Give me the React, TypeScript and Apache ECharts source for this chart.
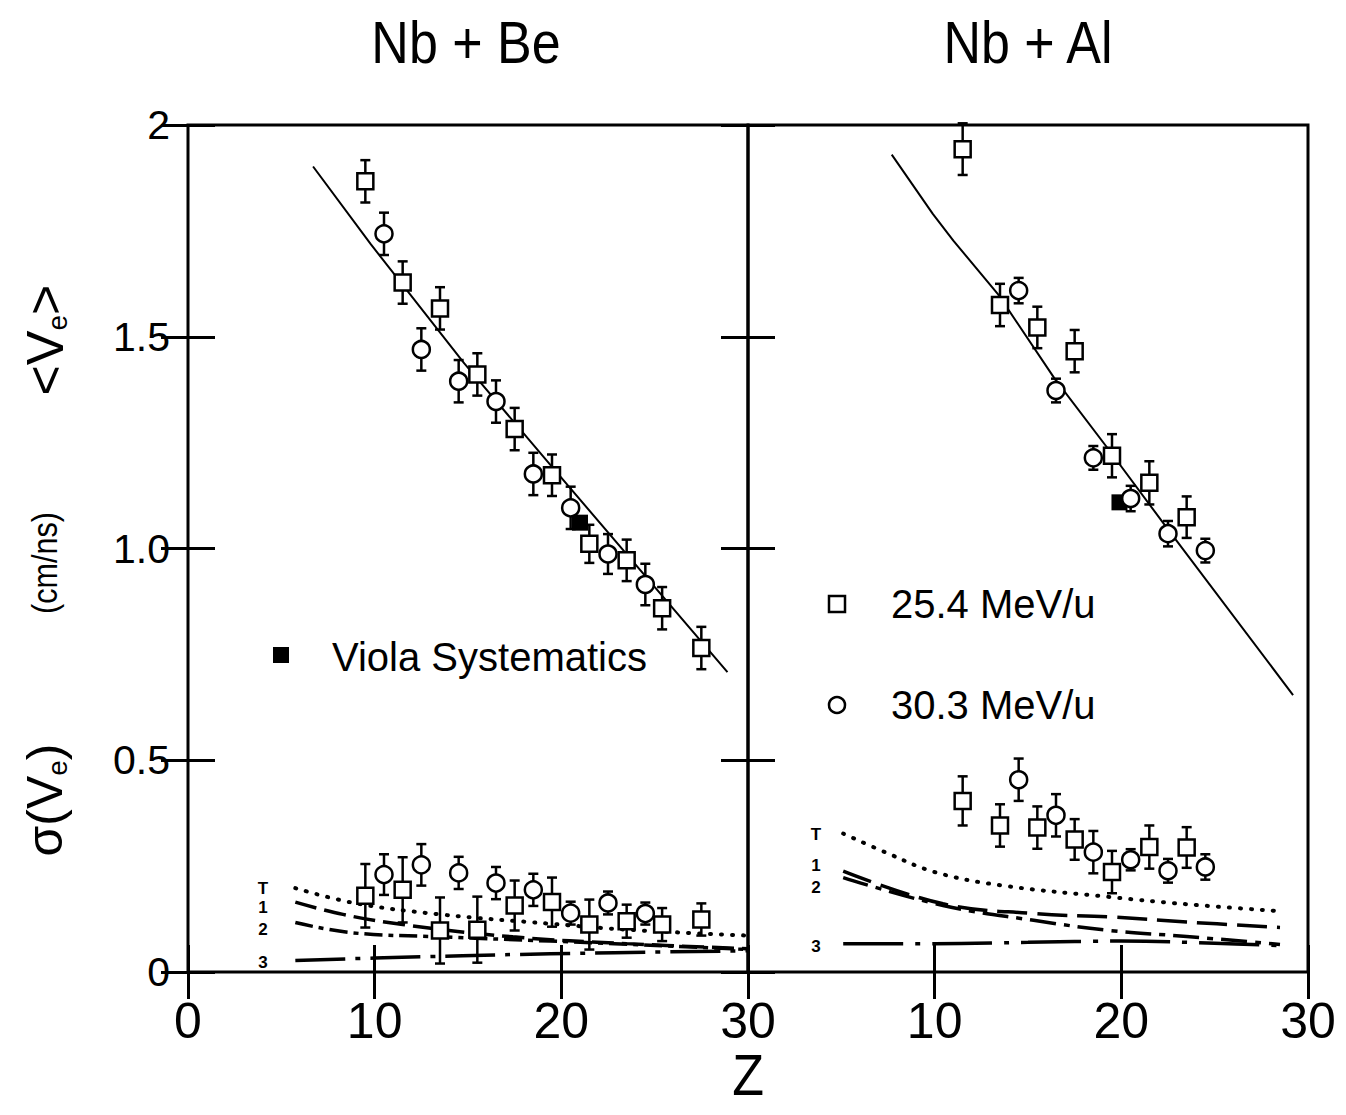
import React, { useEffect, useRef } from "react";
import * as echarts from "echarts";

// ---------- DATA ----------
// Nb + Be, <Ve>
const beSqZ = [9.5, 11.5, 13.5, 15.5, 17.5, 19.5, 21.5, 23.5, 25.4, 27.5];
const beSqV = [1.867, 1.628, 1.567, 1.411, 1.282, 1.173, 1.011, 0.972, 0.859, 0.765];
const beSqErr = [0.05, 0.05, 0.05, 0.05, 0.05, 0.049, 0.045, 0.049, 0.05, 0.05];
const beCiZ = [10.5, 12.5, 14.5, 16.5, 18.5, 20.5, 22.5, 24.5];
const beCiV = [1.743, 1.47, 1.395, 1.347, 1.176, 1.096, 0.987, 0.915];
const beCiErr = [0.05, 0.05, 0.05, 0.05, 0.05, 0.05, 0.047, 0.049];
const beViola = [[21.0, 1.061]];
const beFitZ = [6.7, 9.8, 14.8, 19.4, 28.9];
const beFitV = [1.902, 1.718, 1.437, 1.198, 0.708];
// Nb + Be, sigma(Ve)
const beSigSqV = [0.18, 0.194, 0.098, 0.1, 0.157, 0.165, 0.112, 0.12, 0.112, 0.124];
const beSigSqErr = [0.075, 0.077, 0.078, 0.078, 0.059, 0.058, 0.059, 0.039, 0.039, 0.038];
const beSigCiV = [0.23, 0.253, 0.234, 0.21, 0.194, 0.139, 0.163, 0.138];
const beSigCiErr = [0.048, 0.049, 0.038, 0.038, 0.038, 0.027, 0.027, 0.026];
const beTZ = [5.75, 8.9, 13.5, 19.4, 23.5, 30];
const beTV = [0.198, 0.163, 0.136, 0.114, 0.1, 0.086];
const be1Z = [5.75, 8.3, 11.5, 17.4, 23.5, 30];
const be1V = [0.165, 0.136, 0.112, 0.083, 0.067, 0.055];
const be2Z = [5.75, 8.7, 13.5, 19.4, 30];
const be2V = [0.117, 0.093, 0.083, 0.073, 0.053];
const be3Z = [5.75, 10, 19.4, 30];
const be3V = [0.027, 0.033, 0.043, 0.05];

// Nb + Al, <Ve>
const alSqZ = [11.5, 13.5, 15.5, 17.5, 19.5, 21.5, 23.5];
const alSqV = [1.943, 1.575, 1.522, 1.466, 1.219, 1.155, 1.074];
const alSqErr = [0.061, 0.05, 0.049, 0.05, 0.051, 0.051, 0.049];
const alCiZ = [14.5, 16.5, 18.5, 20.5, 22.5, 24.5];
const alCiV = [1.609, 1.373, 1.214, 1.118, 1.035, 0.995];
const alCiErr = [0.03, 0.028, 0.028, 0.03, 0.03, 0.028];
const alViola = [[19.9, 1.109]];
const alFitZ = [7.7, 9.9, 11.0, 13.4, 16.4, 19.4, 22.4, 29.2];
const alFitV = [1.93, 1.79, 1.727, 1.6, 1.403, 1.229, 1.051, 0.654];
// Nb + Al, sigma(Ve)
const alSigSqV = [0.404, 0.346, 0.341, 0.313, 0.236, 0.295, 0.294];
const alSigSqErr = [0.058, 0.05, 0.05, 0.048, 0.05, 0.051, 0.048];
const alSigCiV = [0.454, 0.37, 0.283, 0.265, 0.239, 0.248];
const alSigCiErr = [0.05, 0.05, 0.05, 0.025, 0.028, 0.03];
const alTZ = [5.1, 7.5, 10, 13.5, 19.4, 23.5, 28.4];
const alTV = [0.327, 0.28, 0.236, 0.205, 0.177, 0.16, 0.144];
const al1Z = [5.1, 10.45, 15.3, 19.4, 23.5, 28.5];
const al1V = [0.238, 0.161, 0.138, 0.13, 0.118, 0.105];
const al2Z = [5.1, 10.45, 15.3, 19.4, 23.5, 28.5];
const al2V = [0.223, 0.157, 0.122, 0.098, 0.084, 0.065];
const al3Z = [5.1, 10, 15, 20, 25, 28.5];
const al3V = [0.067, 0.067, 0.07, 0.073, 0.068, 0.062];

const xTicks = [0, 10, 20, 30];
const yTicks = [0, 0.5, 1.0, 1.5, 2];
const titles = ["Nb + Be", "Nb + Al"];
const legendLabels = ["Viola Systematics", "25.4 MeV/u", "30.3 MeV/u"];
const curveLabels = ["T", "1", "2", "3"];

// ---------- helpers ----------
const FONT = "'Liberation Sans', Arial, sans-serif";
const zip2 = (a: number[], b: number[]) => a.map((v, i) => [v, b[i]]);
const zip3 = (a: number[], b: number[], c: number[]) => a.map((v, i) => [v, b[i], c[i]]);

const errSeries = (gi: number, data: number[][]) => ({
  type: "custom",
  xAxisIndex: gi * 2,
  yAxisIndex: gi * 2,
  z: 3,
  encode: { x: 0, y: 1 },
  data,
  renderItem: (params: any, api: any) => {
    const x = api.value(0);
    const y = api.value(1);
    const e = api.value(2);
    const t = api.coord([x, y + e]);
    const b = api.coord([x, y - e]);
    const hw = 5;
    const st = { stroke: "#000", lineWidth: 2.5 };
    return {
      type: "group",
      children: [
        { type: "line", shape: { x1: t[0], y1: t[1], x2: b[0], y2: b[1] }, style: st },
        { type: "line", shape: { x1: t[0] - hw, y1: t[1], x2: t[0] + hw, y2: t[1] }, style: st },
        { type: "line", shape: { x1: b[0] - hw, y1: b[1], x2: b[0] + hw, y2: b[1] }, style: st },
      ],
    };
  },
});

const markSeries = (gi: number, data: number[][], symbol: string, filled: boolean, z = 4) => ({
  type: "scatter",
  xAxisIndex: gi * 2,
  yAxisIndex: gi * 2,
  z,
  symbol,
  symbolSize: symbol === "rect" ? 16 : 17,
  data,
  itemStyle: { color: filled ? "#000" : "#fff", borderColor: "#000", borderWidth: filled ? 0 : 2.5, opacity: 1 },
});

const lineSeries = (gi: number, data: number[][], type: any, width: number, smooth: any, cap = "butt") => ({
  type: "line",
  xAxisIndex: gi * 2,
  yAxisIndex: gi * 2,
  z: 2,
  data,
  showSymbol: false,
  symbol: "none",
  smooth,
  lineStyle: { color: "#000", width, type, cap },
});

const xAxis = (gi: number, position: string, showLabel: boolean, hideZero: boolean) => ({
  type: "value",
  gridIndex: gi,
  position,
  min: xTicks[0],
  max: xTicks[xTicks.length - 1],
  interval: xTicks[1] - xTicks[0],
  axisLine: { show: false },
  axisTick: { show: true, inside: true, length: 27, lineStyle: { color: "#000", width: 3 } },
  splitLine: { show: false },
  axisLabel: {
    show: showLabel,
    color: "#000",
    fontSize: 50,
    fontFamily: FONT,
    margin: 24,
    formatter: (v: number) => (hideZero && v === 0 ? "" : String(v)),
  },
});

const yAxis = (gi: number, position: string, showLabel: boolean) => ({
  type: "value",
  gridIndex: gi,
  position,
  min: yTicks[0],
  max: yTicks[yTicks.length - 1],
  interval: yTicks[1] - yTicks[0],
  axisLine: { show: false },
  axisTick: { show: true, inside: true, length: 27, lineStyle: { color: "#000", width: 3 } },
  splitLine: { show: false },
  axisLabel: {
    show: showLabel,
    color: "#000",
    fontSize: 41,
    fontFamily: FONT,
    margin: 18,
    formatter: (v: number) => (v === 0 || v === 2 ? String(v) : v.toFixed(1)),
  },
});

export default function App() {
  const ref = useRef<HTMLDivElement>(null);
  useEffect(() => {
    if (!ref.current) return;
    const chart = echarts.init(ref.current, undefined, { renderer: "svg" });
    const gridBase = { top: 125, width: 560, height: 847, show: true, borderColor: "#000", borderWidth: 3, backgroundColor: "transparent" };
    const txt = (x: number, y: number, text: string, fontSize: number, extra: any = {}, el: any = {}) => ({
      type: "text",
      x,
      y,
      z: 10,
      ...el,
      style: { text, fontSize, fontFamily: FONT, fill: "#000", align: "center", verticalAlign: "middle", ...extra },
    });
    const small = (x: number, y: number, text: string) => txt(x, y, text, 17, { fontWeight: "bold" });

    const option: any = {
      animation: false,
      backgroundColor: "#fff",
      grid: [
        { ...gridBase, left: 188 },
        { ...gridBase, left: 748 },
      ],
      xAxis: [xAxis(0, "bottom", true, false), xAxis(0, "top", false, false), xAxis(1, "bottom", true, true), xAxis(1, "top", false, false)],
      yAxis: [yAxis(0, "left", true), yAxis(0, "right", false), yAxis(1, "left", false), yAxis(1, "right", false)],
      series: [
        // Nb + Be
        lineSeries(0, zip2(beFitZ, beFitV), "solid", 2, false),
        lineSeries(0, zip2(beTZ, beTV), [1, 10], 4, 0.4, "round"),
        lineSeries(0, zip2(be1Z, be1V), [22, 8], 3.5, 0.4),
        lineSeries(0, zip2(be2Z, be2V), [18, 6, 5, 6], 3.5, 0.4),
        lineSeries(0, zip2(be3Z, be3V), [50, 10, 5, 10], 3.5, 0.4),
        errSeries(0, zip3(beSqZ, beSqV, beSqErr)),
        errSeries(0, zip3(beCiZ, beCiV, beCiErr)),
        errSeries(0, zip3(beSqZ, beSigSqV, beSigSqErr)),
        errSeries(0, zip3(beCiZ, beSigCiV, beSigCiErr)),
        markSeries(0, beViola, "rect", true, 4),
        markSeries(0, zip2(beSqZ, beSqV), "rect", false, 5),
        markSeries(0, zip2(beCiZ, beCiV), "circle", false, 5),
        markSeries(0, zip2(beSqZ, beSigSqV), "rect", false, 5),
        markSeries(0, zip2(beCiZ, beSigCiV), "circle", false, 5),
        // Nb + Al
        lineSeries(1, zip2(alFitZ, alFitV), "solid", 2, false),
        lineSeries(1, zip2(alTZ, alTV), [1, 10], 4, 0.4, "round"),
        lineSeries(1, zip2(al1Z, al1V), [30, 10], 3.5, 0.4),
        lineSeries(1, zip2(al2Z, al2V), [26, 8, 6, 8], 3.5, 0.4),
        lineSeries(1, zip2(al3Z, al3V), [60, 12, 5, 12], 3.5, 0.4),
        errSeries(1, zip3(alSqZ, alSqV, alSqErr)),
        errSeries(1, zip3(alCiZ, alCiV, alCiErr)),
        errSeries(1, zip3(alSqZ, alSigSqV, alSigSqErr)),
        errSeries(1, zip3(alCiZ, alSigCiV, alSigCiErr)),
        markSeries(1, alViola, "rect", true, 4),
        markSeries(1, zip2(alSqZ, alSqV), "rect", false, 5),
        markSeries(1, zip2(alCiZ, alCiV), "circle", false, 5),
        markSeries(1, zip2(alSqZ, alSigSqV), "rect", false, 5),
        markSeries(1, zip2(alCiZ, alSigCiV), "circle", false, 5),
      ],
      graphic: [
        txt(466, 42, titles[0], 52, {}, { scaleY: 1.15 }),
        txt(1028, 42, titles[1], 52, {}, { scaleY: 1.15 }),
        txt(748, 1076, "Z", 52, {}, { scaleY: 1.1 }),
        // rotated y-axis titles
        {
          type: "text", x: 45, y: 340, rotation: Math.PI / 2, z: 10,
          style: {
            text: "{a|<V}{s|e}{a|>}", align: "center", verticalAlign: "middle", fill: "#000",
            rich: { a: { fontSize: 52, fontFamily: FONT, fill: "#000" }, s: { fontSize: 28, fontFamily: FONT, fill: "#000", verticalAlign: "bottom", padding: [24, 0, 0, 0] } },
          },
        },
        {
          type: "text", x: 45, y: 563, rotation: Math.PI / 2, z: 10, scaleX: 0.85,
          style: { text: "(cm/ns)", fontSize: 36, fontFamily: FONT, fill: "#000", align: "center", verticalAlign: "middle" },
        },
        {
          type: "text", x: 45, y: 800, rotation: Math.PI / 2, z: 10,
          style: {
            text: "{a|σ(V}{s|e}{a|)}", align: "center", verticalAlign: "middle", fill: "#000",
            rich: { a: { fontSize: 50, fontFamily: FONT, fill: "#000" }, s: { fontSize: 28, fontFamily: FONT, fill: "#000", verticalAlign: "bottom", padding: [24, 0, 0, 0] } },
          },
        },
        // legends
        { type: "rect", z: 10, shape: { x: 273, y: 647, width: 16, height: 16 }, style: { fill: "#000" } },
        txt(332, 657, legendLabels[0], 40, { align: "left" }),
        { type: "rect", z: 10, shape: { x: 829, y: 596, width: 16, height: 16 }, style: { fill: "#fff", stroke: "#000", lineWidth: 2.5 } },
        txt(891, 604, legendLabels[1], 40, { align: "left" }),
        { type: "circle", z: 10, shape: { cx: 837, cy: 705, r: 8 }, style: { fill: "#fff", stroke: "#000", lineWidth: 2.5 } },
        txt(891, 705, legendLabels[2], 40, { align: "left" }),
        // curve labels
        small(263, 888, curveLabels[0]),
        small(263, 907, curveLabels[1]),
        small(263, 929, curveLabels[2]),
        small(263, 962, curveLabels[3]),
        small(816, 834, curveLabels[0]),
        small(816, 865, curveLabels[1]),
        small(816, 887, curveLabels[2]),
        small(816, 946, curveLabels[3]),
      ],
    };
    chart.setOption(option);
    return () => chart.dispose();
  }, []);
  return <div ref={ref} style={{ position: "absolute", left: 0, top: 0, width: 1346, height: 1115, background: "#fff" }} />;
}
